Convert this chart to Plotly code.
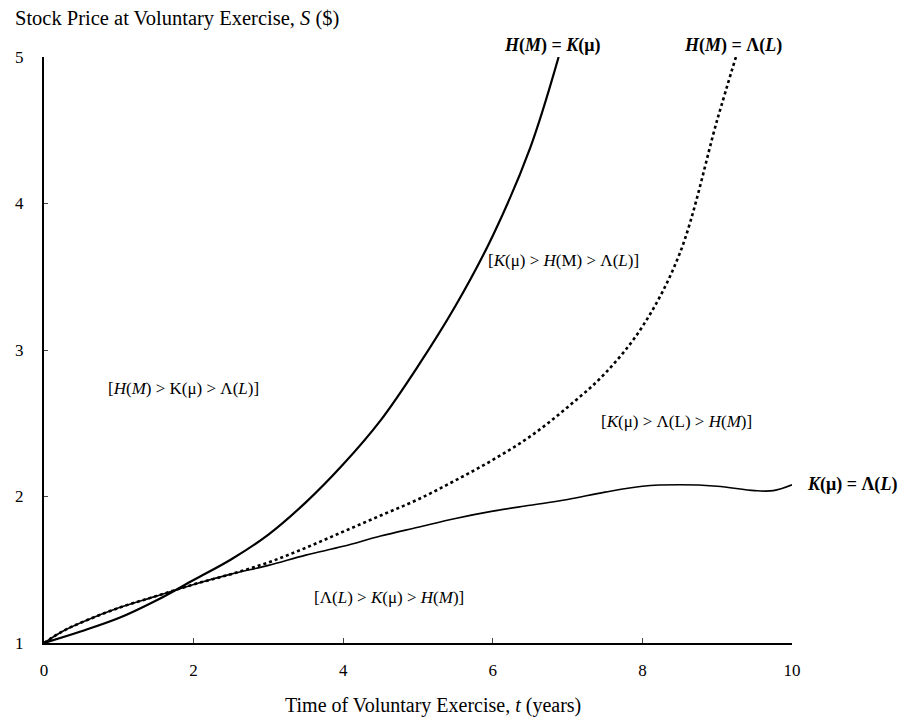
import plotly.graph_objects as go

# Boundary curves between exercise regions (t in years, S in $)
t_hk = [0, 0.5, 1, 1.5, 2, 2.5, 3, 3.5, 4, 4.5, 5, 5.5, 6, 6.5, 6.88]
s_hk = [1.0, 1.08, 1.17, 1.29, 1.43, 1.57, 1.74, 1.96, 2.22, 2.52, 2.89, 3.30, 3.78, 4.38, 5.0]

t_hl = [0, 0.25, 0.5, 1, 1.5, 2, 2.5, 3, 3.5, 4, 4.5, 5, 5.5, 6, 6.5, 7, 7.5, 8, 8.5, 9, 9.25]
s_hl = [1.0, 1.08, 1.14, 1.24, 1.32, 1.40, 1.47, 1.55, 1.65, 1.76, 1.87, 1.98, 2.11, 2.25, 2.41, 2.61, 2.84, 3.16, 3.66, 4.57, 5.0]

t_kl = [0, 0.25, 0.5, 1, 1.5, 2, 2.5, 3, 3.5, 4, 4.5, 5, 5.5, 6, 6.5, 7, 7.5, 8, 8.5, 9, 9.5, 9.75, 10]
s_kl = [1.0, 1.08, 1.14, 1.24, 1.32, 1.40, 1.47, 1.53, 1.60, 1.66, 1.73, 1.79, 1.85, 1.90, 1.94, 1.98, 2.03, 2.07, 2.08, 2.07, 2.04, 2.04, 2.08]

x_ticks = [0, 2, 4, 6, 8, 10]
y_ticks = [1, 2, 3, 4, 5]

FONT = "Liberation Serif"

fig = go.Figure()
fig.add_trace(go.Scatter(x=t_hk, y=s_hk, mode="lines",
                         line=dict(color="black", width=2.2, shape="spline", smoothing=1), showlegend=False))
fig.add_trace(go.Scatter(x=t_hl, y=s_hl, mode="lines",
                         line=dict(color="black", width=2.6, dash="dot", shape="spline", smoothing=1), showlegend=False))
fig.add_trace(go.Scatter(x=t_kl, y=s_kl, mode="lines",
                         line=dict(color="black", width=1.6, shape="spline", smoothing=1), showlegend=False))

fig.update_layout(
    width=903, height=717,
    margin=dict(l=44, r=111, t=57, b=74),
    plot_bgcolor="white", paper_bgcolor="white",
    font=dict(family=FONT, size=17, color="black"),
    xaxis=dict(range=[0, 10], tickvals=x_ticks, ticks="inside", ticklen=5, tickwidth=1.2,
               showline=True, linecolor="black", linewidth=2, showgrid=False, zeroline=False,
               tickfont=dict(size=17), ticklabelstandoff=11),
    yaxis=dict(range=[1, 5], tickvals=y_ticks, ticks="inside", ticklen=4, tickwidth=1.2,
               showline=True, linecolor="black", linewidth=2.2, showgrid=False, zeroline=False,
               tickfont=dict(size=17), ticklabelstandoff=15),
)


def note(x, y, text, size=17, xanchor="center", xref="x", yref="y"):
    fig.add_annotation(x=x, y=y, xref=xref, yref=yref, text=text, showarrow=False,
                       xanchor=xanchor, yanchor="middle",
                       font=dict(family=FONT, size=size, color="black"))


# Curve labels
note(0.680, 1.020, "<b><i>H</i>(<i>M</i>) = <i>K</i>(\u03bc)</b>", size=18, xref="paper", yref="paper")
note(0.921, 1.020, "<b><i>H</i>(<i>M</i>) = \u039b(<i>L</i>)</b>", size=18, xref="paper", yref="paper")
note(1.017, 0.271, "<b><i>K</i>(\u03bc) = \u039b(<i>L</i>)</b>", size=18, xanchor="left", xref="paper", yref="paper")

# Region labels
note(6.95, 3.61, "[<i>K</i>(\u03bc) > <i>H</i>(M) > \u039b(<i>L</i>)]")
note(1.86, 2.74, "[<i>H</i>(<i>M</i>) > K(\u03bc) > \u039b(<i>L</i>)]")
note(8.46, 2.51, "[<i>K</i>(\u03bc) > \u039b(L) > <i>H</i>(<i>M</i>)]")
note(4.61, 1.31, "[\u039b(<i>L</i>) > <i>K</i>(\u03bc) > <i>H</i>(<i>M</i>)]")

# Axis titles
note(-0.041, 1.065, "Stock Price at Voluntary Exercise, <i>S</i> ($)", size=20.5,
     xanchor="left", xref="paper", yref="paper")
note(0.52, -0.106, "Time of Voluntary Exercise, <i>t</i> (years)", size=20,
     xref="paper", yref="paper")

fig.write_html("out.html")
